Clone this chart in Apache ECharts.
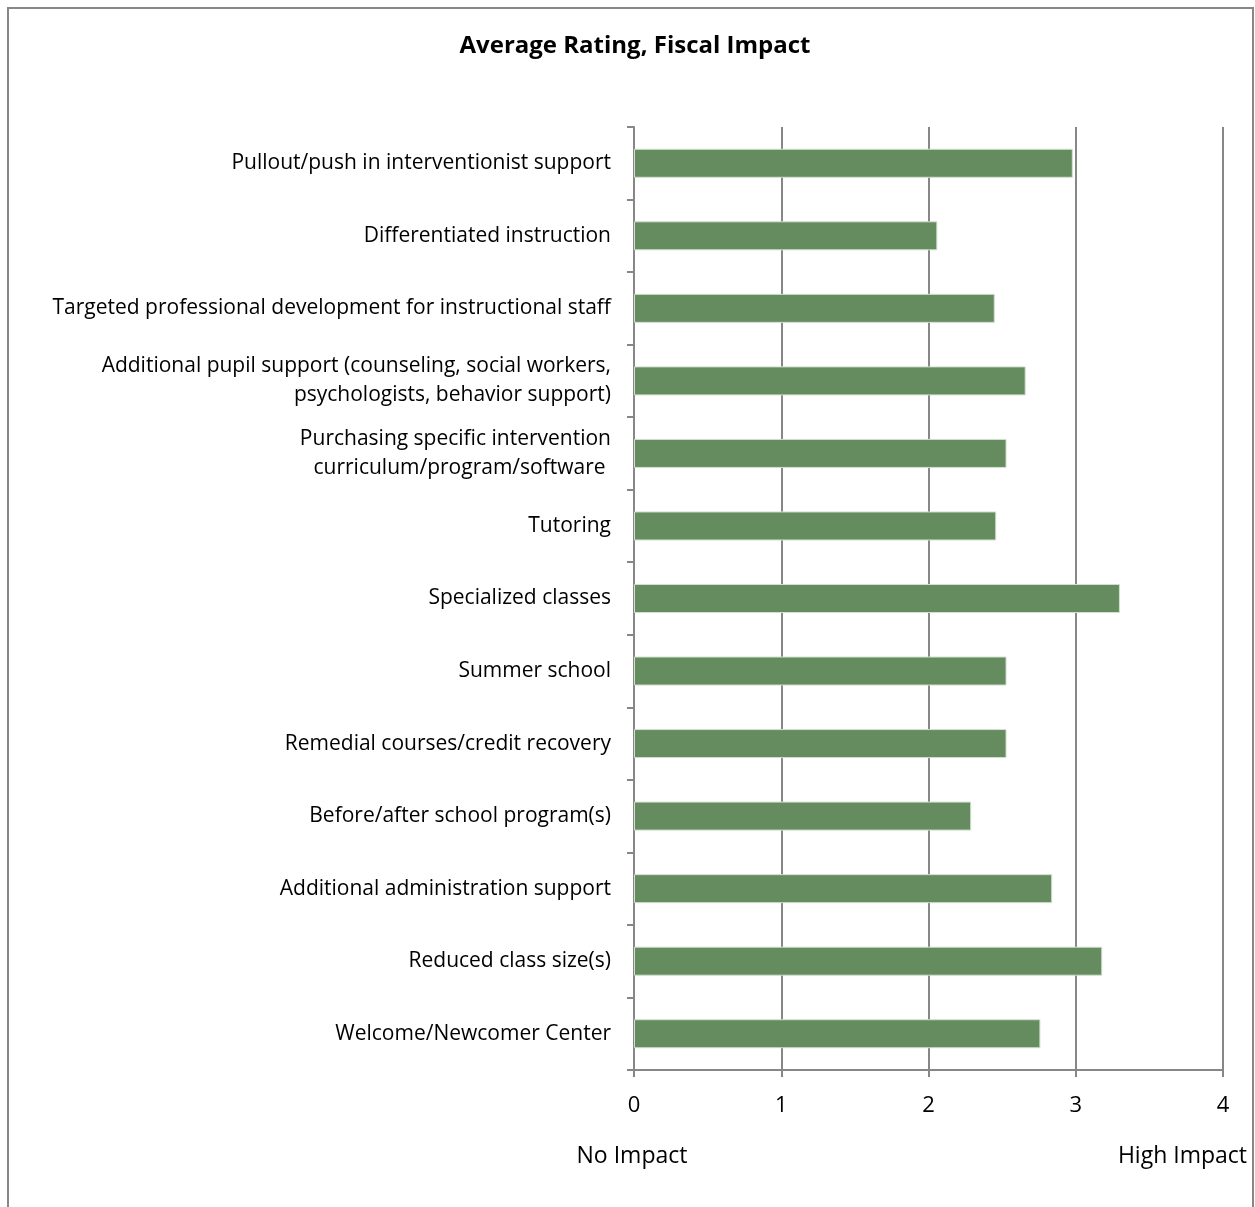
<!DOCTYPE html>
<html>
<head>
<meta charset="utf-8">
<script src="https://cdn.jsdelivr.net/npm/echarts@6/dist/echarts.min.js"></script>
<style>
  html, body { margin: 0; padding: 0; background: #fff; }
  #chart { width: 1255px; height: 1207px; }
</style>
</head>
<body>
<div id="chart"></div>
<script>
// Intervention strategies, listed top to bottom
const categories = [
  'Pullout/push in interventionist support',
  'Differentiated instruction',
  'Targeted professional development for instructional staff',
  'Additional pupil support (counseling, social workers,\npsychologists, behavior support)',
  'Purchasing specific intervention\ncurriculum/program/software ',
  'Tutoring',
  'Specialized classes',
  'Summer school',
  'Remedial courses/credit recovery',
  'Before/after school program(s)',
  'Additional administration support',
  'Reduced class size(s)',
  'Welcome/Newcomer Center'
];

// Average fiscal impact rating per strategy
const ratings = [2.98, 2.06, 2.45, 2.66, 2.53, 2.46, 3.30, 2.53, 2.53, 2.29, 2.84, 3.18, 2.76];

// Value axis scale
const axisMin = 0;
const axisMax = 4;
const axisStep = 1;

// Scale end captions
const lowCaption = 'No Impact';
const highCaption = 'High Impact';

const FONT = '"Open Sans"';
const GREY = '#878787';

const chart = echarts.init(document.getElementById('chart'));

chart.setOption({
  animation: false,
  backgroundColor: '#ffffff',
  title: {
    text: 'Average Rating, Fiscal Impact',
    left: 630,
    textAlign: 'center',
    top: 29,
    textStyle: { fontFamily: FONT, fontSize: 24, fontWeight: 'bold', color: '#000' }
  },
  grid: { left: 634, right: 32, top: 127, bottom: 137, containLabel: false },
  xAxis: {
    type: 'value',
    min: axisMin,
    max: axisMax,
    interval: axisStep,
    axisLine: { show: true, lineStyle: { color: GREY, width: 2 } },
    axisTick: { show: true, length: 7, lineStyle: { color: GREY, width: 2 } },
    splitLine: { show: true, lineStyle: { color: GREY, width: 2 } },
    axisLabel: { fontFamily: FONT, fontSize: 22, color: '#000', margin: 25 }
  },
  yAxis: {
    type: 'category',
    data: categories,
    inverse: true,
    axisLine: { show: true, lineStyle: { color: GREY, width: 2 } },
    axisTick: { show: true, length: 7, alignWithLabel: false, lineStyle: { color: GREY, width: 2 } },
    axisLabel: {
      fontFamily: FONT, fontSize: 21, color: '#000', margin: 23,
      lineHeight: 29, align: 'right'
    }
  },
  series: [{
    type: 'bar',
    data: ratings,
    barWidth: '40%',
    itemStyle: { color: '#658c5f', borderColor: '#d3dfd0', borderWidth: 1 }
  }],
  graphic: [
    {
      type: 'rect',
      shape: { x: 8, y: 8, width: 1245, height: 1215 },
      style: { fill: 'none', stroke: GREY, lineWidth: 2 },
      silent: true
    },
    {
      type: 'text',
      x: 632, y: 1156,
      style: { text: lowCaption, font: '23px ' + FONT, fill: '#000', textAlign: 'center', textVerticalAlign: 'middle' }
    },
    {
      type: 'text',
      x: 1247, y: 1156,
      style: { text: highCaption, font: '23px ' + FONT, fill: '#000', textAlign: 'right', textVerticalAlign: 'middle' }
    }
  ]
});
</script>
</body>
</html>
